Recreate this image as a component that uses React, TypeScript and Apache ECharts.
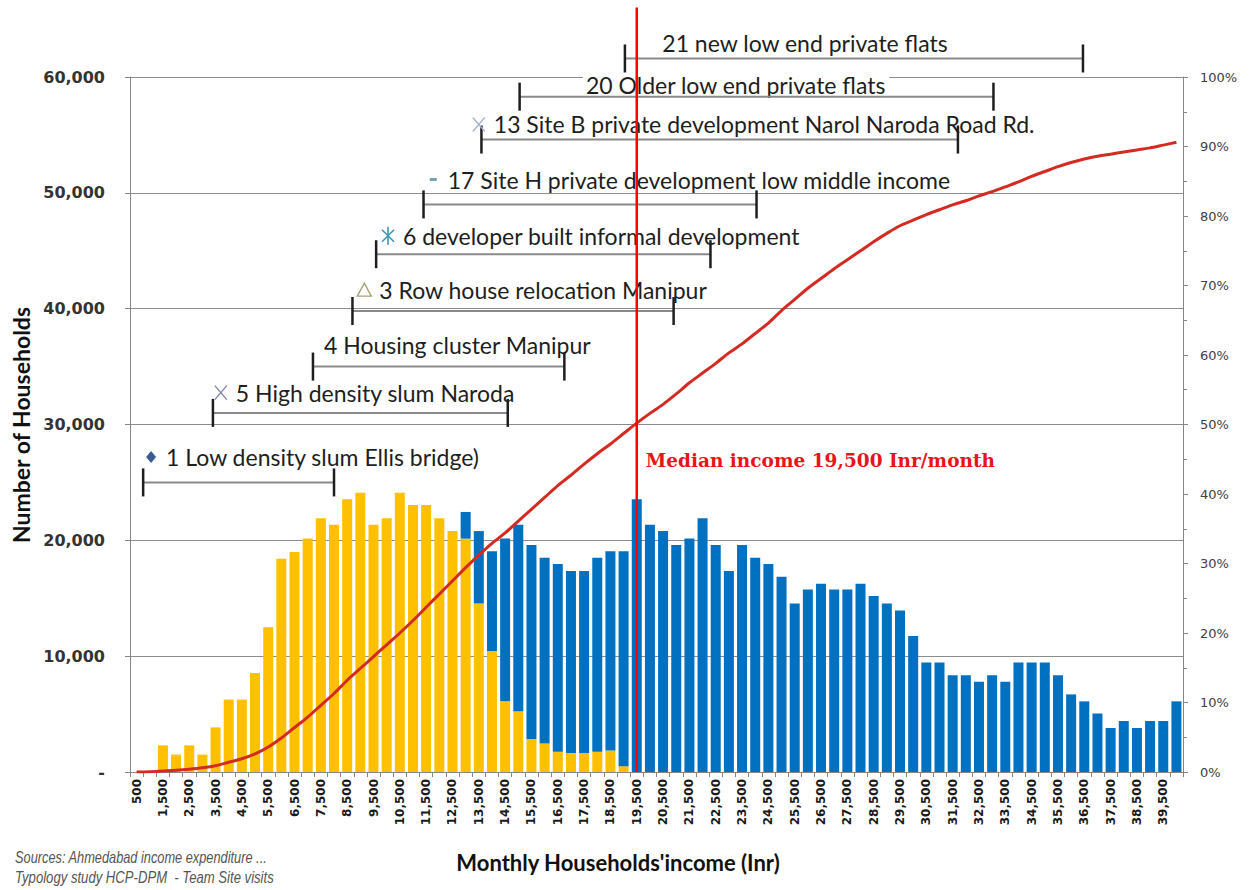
import React, { useEffect, useRef } from "react";
import * as echarts from "echarts";

// Monthly household income categories (Inr)
const incomeCategories = [
  500, 1000, 1500, 2000, 2500, 3000, 3500, 4000, 4500, 5000,
  5500, 6000, 6500, 7000, 7500, 8000, 8500, 9000, 9500, 10000,
  10500, 11000, 11500, 12000, 12500, 13000, 13500, 14000, 14500, 15000,
  15500, 16000, 16500, 17000, 17500, 18000, 18500, 19000, 19500, 20000,
  20500, 21000, 21500, 22000, 22500, 23000, 23500, 24000, 24500, 25000,
  25500, 26000, 26500, 27000, 27500, 28000, 28500, 29000, 29500, 30000,
  30500, 31000, 31500, 32000, 32500, 33000, 33500, 34000, 34500, 35000,
  35500, 36000, 36500, 37000, 37500, 38000, 38500, 39000, 39500, 40000,
];

// Yellow (lower) stack
const lowerHouseholds = [
  0, 0, 2300, 1500, 2300, 1500, 3850, 6250, 6250, 8550,
  12500, 18400, 19000, 20150, 21900, 21350, 23550, 24100, 21350, 21900,
  24100, 23050, 23050, 21900, 20800, 20150, 14550, 10450, 6100, 5250,
  2850, 2450, 1750, 1650, 1650, 1750, 1850, 500, 0, 0,
  0, 0, 0, 0, 0, 0, 0, 0, 0, 0,
  0, 0, 0, 0, 0, 0, 0, 0, 0, 0,
  0, 0, 0, 0, 0, 0, 0, 0, 0, 0,
  0, 0, 0, 0, 0, 0, 0, 0, 0, 0,
];

// Blue (upper) stack
const upperHouseholds = [
  0, 0, 0, 0, 0, 0, 0, 0, 0, 0,
  0, 0, 0, 0, 0, 0, 0, 0, 0, 0,
  0, 0, 0, 0, 0, 2300, 6250, 8600, 14050, 16100,
  16750, 16050, 16200, 15700, 15700, 16750, 17200, 18550, 23550, 21350,
  20800, 19600, 20150, 21900, 19600, 17350, 19600, 18500, 17950, 16850,
  14550, 15750, 16250, 15750, 15750, 16250, 15200, 14550, 13950, 11750,
  9450, 9450, 8350, 8350, 7800, 8350, 7800, 9450, 9450, 9450,
  8350, 6700, 6100, 5050, 3800, 4400, 3800, 4400, 4400, 6100,
];

// Cumulative share of households (%)
const cumulativeShare = [
  0, 0.05, 0.15, 0.25, 0.4, 0.6, 0.9, 1.4, 1.9, 2.6,
  3.6, 4.9, 6.4, 7.9, 9.6, 11.3, 13.2, 14.9, 16.6, 18.3,
  20.0, 21.8, 23.7, 25.6, 27.5, 29.4, 31.2, 32.9, 34.4, 36.1,
  37.8, 39.5, 41.2, 42.7, 44.3, 45.8, 47.2, 48.7, 50.2, 51.6,
  52.9, 54.4, 56.0, 57.4, 58.8, 60.3, 61.6, 63.1, 64.6, 66.4,
  68.0, 69.6, 71.0, 72.4, 73.7, 75.0, 76.3, 77.5, 78.6, 79.4,
  80.2, 80.9, 81.6, 82.2, 82.9, 83.5, 84.2, 84.9, 85.7, 86.4,
  87.1, 87.7, 88.2, 88.6, 88.9, 89.2, 89.5, 89.8, 90.2, 90.6,
];

const leftTicks = [0, 10000, 20000, 30000, 40000, 50000, 60000];
const rightTicks = [0, 10, 20, 30, 40, 50, 60, 70, 80, 90, 100];

// Typology income ranges
const rangeNames = [
  "1 Low density slum Ellis bridge)",
  "5 High density slum Naroda",
  "4 Housing cluster Manipur",
  "3 Row house relocation Manipur",
  "6 developer built informal development",
  "17 Site H private development low middle income",
  "13 Site B private development Narol Naroda Road Rd.",
  "20 Older low end private flats",
  "21 new low end private flats",
];
const rangeLow = [750, 3400, 7200, 8700, 9600, 11400, 13600, 15050, 19050];
const rangeHigh = [8000, 14600, 16750, 20900, 22300, 24050, 31700, 33050, 36450];
const rangeLevel = [25000, 31000, 35000, 39800, 44700, 49000, 54600, 58300, 61600];
const markerIncome = [1050, 3700, 7050, 9150, 10050, 11750, 13500, 17000, 19900];
const markerHouseholds = [27200, 32750, 36850, 41600, 46300, 51150, 55900, 59350, 62900];

const medianIncome = 19500;
const medianLabel = "Median income 19,500 Inr/month";
const medianLabelLevel = 26900;
const medianTopLevel = 66000;

const markerKinds = ["diamond", "cross", "none", "triangle", "asterisk", "dash", "cross", "none", "none"];
const markerColors = ["#3A5C95", "#8084A8", "none", "#A6A27A", "#3D96B4", "#74A3B6", "#A4B5D2", "none", "none"];

function markerShape(kind: string, color: string, x: number, y: number): any[] {
  if (kind === "diamond") {
    return [{ type: "polygon", shape: { points: [[x, y - 6], [x + 5, y], [x, y + 6], [x - 5, y]] }, style: { fill: color } }];
  }
  if (kind === "cross") {
    return [
      { type: "line", shape: { x1: x - 6, y1: y - 7, x2: x + 6, y2: y + 7 }, style: { stroke: color, lineWidth: 1.4 } },
      { type: "line", shape: { x1: x + 6, y1: y - 7, x2: x - 6, y2: y + 7 }, style: { stroke: color, lineWidth: 1.4 } },
    ];
  }
  if (kind === "triangle") {
    return [{ type: "polygon", shape: { points: [[x, y - 7], [x + 7, y + 6], [x - 7, y + 6]] }, style: { fill: "none", stroke: color, lineWidth: 1.4 } }];
  }
  if (kind === "asterisk") {
    return [
      { type: "line", shape: { x1: x - 6, y1: y - 6, x2: x + 6, y2: y + 6 }, style: { stroke: color, lineWidth: 1.6 } },
      { type: "line", shape: { x1: x + 6, y1: y - 6, x2: x - 6, y2: y + 6 }, style: { stroke: color, lineWidth: 1.6 } },
      { type: "line", shape: { x1: x, y1: y - 9, x2: x, y2: y + 9 }, style: { stroke: color, lineWidth: 1.6 } },
    ];
  }
  if (kind === "dash") {
    return [{ type: "rect", shape: { x: x - 3, y: y - 1.5, width: 7, height: 3 }, style: { fill: color } }];
  }
  return [];
}

export default function App() {
  const ref = useRef<HTMLDivElement>(null);

  useEffect(() => {
    if (!ref.current) return;
    const chart = echarts.init(ref.current, null, { renderer: "svg" });

    const annotationData = rangeNames.map((_, i) => [
      rangeLow[i], rangeHigh[i], rangeLevel[i], markerIncome[i], markerHouseholds[i], i,
    ]);

    const option: any = {
      animation: false,
      backgroundColor: "#ffffff",
      grid: { left: 130, right: 67, top: 77, bottom: 118 },
      xAxis: [
        {
          type: "category",
          data: incomeCategories.map((v) => v.toLocaleString("en-US")),
          boundaryGap: true,
          axisLine: { lineStyle: { color: "#868686", width: 1 } },
          axisTick: { show: true, interval: 0, length: 5, lineStyle: { color: "#868686" } },
          axisLabel: {
            interval: 1,
            rotate: 90,
            margin: 7,
            fontFamily: "DejaVu Sans",
            fontWeight: "bold",
            fontSize: 12,
            color: "#1a1a1a",
          },
          splitLine: { show: false },
        },
        {
          type: "value",
          min: 250,
          max: 40250,
          show: false,
          splitLine: { show: false },
        },
      ],
      yAxis: [
        {
          type: "value",
          min: leftTicks[0],
          max: leftTicks[leftTicks.length - 1],
          interval: leftTicks[1] - leftTicks[0],
          axisLine: { show: true, lineStyle: { color: "#868686" } },
          axisTick: { show: true, length: 5, lineStyle: { color: "#868686" } },
          axisLabel: {
            margin: 25,
            fontFamily: "DejaVu Sans",
            fontWeight: "bold",
            fontSize: 16,
            color: "#333333",
            formatter: (v: number) => (v === 0 ? "-" : v.toLocaleString("en-US")),
          },
          splitLine: { show: true, lineStyle: { color: "#8c8c8c", width: 1 } },
        },
        {
          type: "value",
          position: "right",
          min: rightTicks[0],
          max: rightTicks[rightTicks.length - 1],
          interval: rightTicks[1] - rightTicks[0],
          axisLine: { show: true, lineStyle: { color: "#868686" } },
          axisTick: { show: true, length: 5, lineStyle: { color: "#868686" } },
          minorTick: { show: true, splitNumber: 2, length: 4, lineStyle: { color: "#868686" } },
          axisLabel: {
            margin: 17,
            fontFamily: "DejaVu Sans",
            fontSize: 13,
            color: "#404040",
            formatter: "{value}%",
          },
          splitLine: { show: false },
        },
      ],
      series: [
        {
          name: "lower",
          type: "bar",
          stack: "hh",
          xAxisIndex: 0,
          yAxisIndex: 0,
          barCategoryGap: "24%",
          itemStyle: { color: "#FFC000" },
          data: lowerHouseholds,
          z: 2,
        },
        {
          name: "upper",
          type: "bar",
          stack: "hh",
          xAxisIndex: 0,
          yAxisIndex: 0,
          barCategoryGap: "24%",
          itemStyle: { color: "#0070C0" },
          data: upperHouseholds,
          z: 2,
        },
        {
          name: "cumulative",
          type: "line",
          xAxisIndex: 0,
          yAxisIndex: 1,
          smooth: 0.3,
          symbol: "none",
          lineStyle: { color: "#D42A22", width: 3 },
          data: cumulativeShare,
          z: 6,
        },
        {
          name: "ranges",
          type: "custom",
          xAxisIndex: 1,
          yAxisIndex: 0,
          clip: false,
          z: 4,
          data: annotationData,
          renderItem: (params: any, api: any) => {
            const i = api.value(5);
            const p1 = api.coord([api.value(0), api.value(2)]);
            const p2 = api.coord([api.value(1), api.value(2)]);
            const m = api.coord([api.value(3), api.value(4)]);
            const children: any[] = [
              {
                type: "text",
                x: m[0] + 12,
                y: m[1],
                style: {
                  text: rangeNames[i],
                  font: '23px "Lato"',
                  fill: "#1e1e1e",
                  textAlign: "left",
                  textVerticalAlign: "middle",
                  align: "left",
                  verticalAlign: "middle",
                  backgroundColor: "#ffffff",
                  padding: [1, 3],
                },
              },
              {
                type: "line",
                shape: { x1: p1[0], y1: p1[1], x2: p2[0], y2: p2[1] },
                style: { stroke: "#8a8a8a", lineWidth: 2 },
              },
              {
                type: "line",
                shape: { x1: p1[0], y1: p1[1] - 14, x2: p1[0], y2: p1[1] + 14 },
                style: { stroke: "#1e1e1e", lineWidth: 2.5 },
              },
              {
                type: "line",
                shape: { x1: p2[0], y1: p2[1] - 14, x2: p2[0], y2: p2[1] + 14 },
                style: { stroke: "#1e1e1e", lineWidth: 2.5 },
              },
              ...markerShape(markerKinds[i], markerColors[i], m[0], m[1]),
            ];
            return { type: "group", children };
          },
        },
        {
          name: "median",
          type: "custom",
          xAxisIndex: 1,
          yAxisIndex: 0,
          clip: false,
          z: 8,
          data: [[medianIncome, 0, medianTopLevel, medianLabelLevel]],
          renderItem: (params: any, api: any) => {
            const b = api.coord([api.value(0), api.value(1)]);
            const t = api.coord([api.value(0), api.value(2)]);
            const l = api.coord([api.value(0), api.value(3)]);
            return {
              type: "group",
              children: [
                {
                  type: "line",
                  shape: { x1: b[0], y1: b[1], x2: t[0], y2: t[1] },
                  style: { stroke: "#FF0000", lineWidth: 2.5 },
                },
                {
                  type: "text",
                  x: l[0] + 9,
                  y: l[1],
                  style: {
                    text: medianLabel,
                    font: 'bold 18.5px "DejaVu Serif"',
                    fill: "#E8141B",
                    textAlign: "left",
                    textVerticalAlign: "middle",
                    align: "left",
                    verticalAlign: "middle",
                  },
                },
              ],
            };
          },
        },
      ],
      graphic: [
        {
          type: "text",
          x: 21,
          y: 425,
          rotation: Math.PI / 2,
          style: {
            text: "Number of Households",
            font: 'bold 23px "Lato"',
            fill: "#111111",
            textAlign: "center",
            textVerticalAlign: "middle",
            align: "center",
            verticalAlign: "middle",
          },
        },
        {
          type: "text",
          x: 618,
          y: 862,
          style: {
            text: "Monthly Households'income (Inr)",
            font: 'bold 22px "Lato"',
            fill: "#111111",
            textAlign: "center",
            textVerticalAlign: "middle",
            align: "center",
            verticalAlign: "middle",
          },
        },
        {
          type: "text",
          x: 15,
          y: 857,
          scaleX: 0.8,
          style: {
            text: "Sources: Ahmedabad income expenditure ...",
            font: 'italic 16px "Liberation Sans"',
            fill: "#555555",
            textAlign: "left",
            textVerticalAlign: "middle",
            align: "left",
            verticalAlign: "middle",
          },
        },
        {
          type: "text",
          x: 15,
          y: 878,
          scaleX: 0.82,
          style: {
            text: "Typology study HCP-DPM  - Team Site visits",
            font: 'italic 16px "Liberation Sans"',
            fill: "#555555",
            textAlign: "left",
            textVerticalAlign: "middle",
            align: "left",
            verticalAlign: "middle",
          },
        },
      ],
    };

    chart.setOption(option);
    return () => chart.dispose();
  }, []);

  return (
    <div
      ref={ref}
      style={{ position: "fixed", left: 0, top: 0, width: 1250, height: 890, background: "#ffffff" }}
    />
  );
}
